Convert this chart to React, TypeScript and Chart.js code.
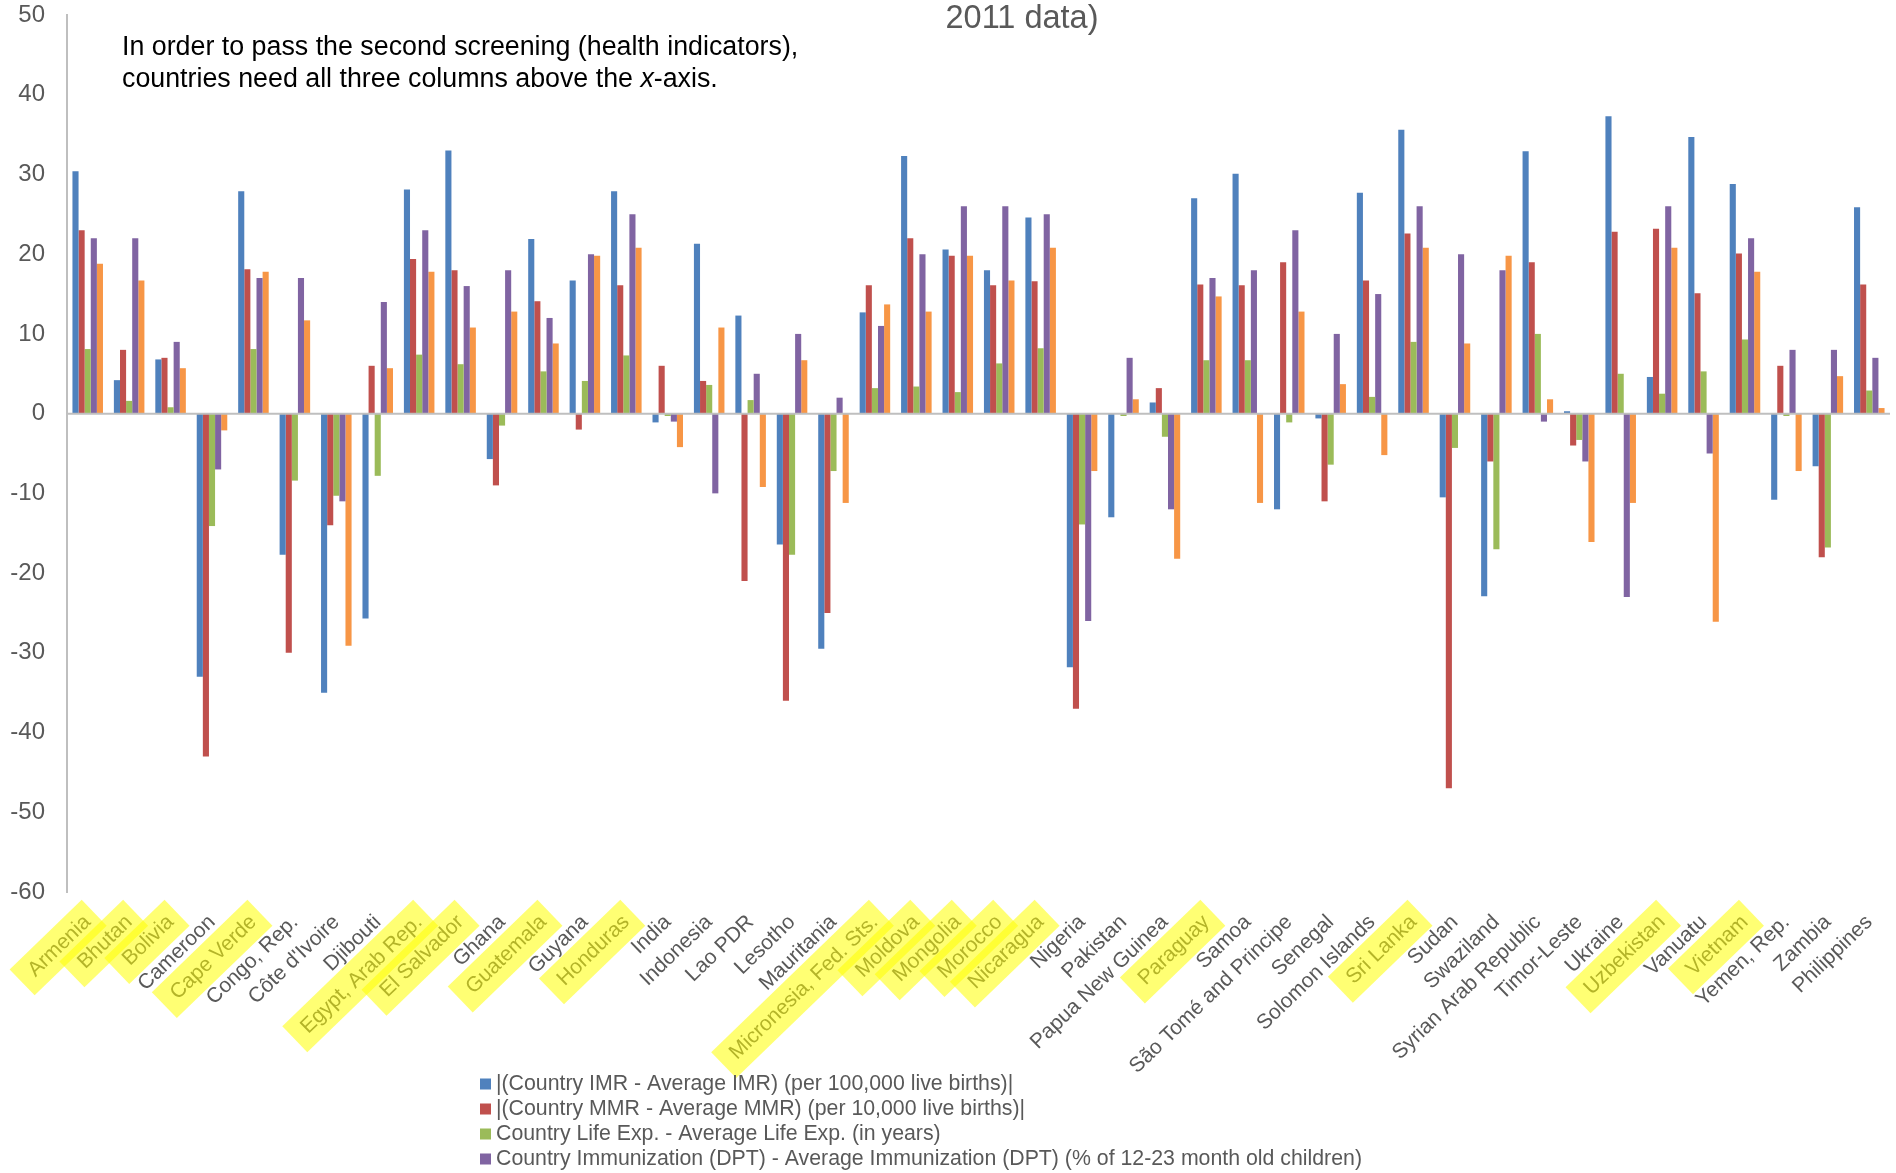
import React, { useEffect, useRef } from "react";
import { Chart, registerables } from "chart.js";

Chart.register(...registerables);

const categories = [
  "Armenia", "Bhutan", "Bolivia", "Cameroon", "Cape Verde", "Congo, Rep.", "Côte d'Ivoire", "Djibouti",
  "Egypt, Arab Rep.", "El Salvador", "Ghana", "Guatemala", "Guyana", "Honduras", "India", "Indonesia",
  "Lao PDR", "Lesotho", "Mauritania", "Micronesia, Fed. Sts.", "Moldova", "Mongolia", "Morocco", "Nicaragua",
  "Nigeria", "Pakistan", "Papua New Guinea", "Paraguay", "Samoa", "São Tomé and Principe", "Senegal",
  "Solomon Islands", "Sri Lanka", "Sudan", "Swaziland", "Syrian Arab Republic", "Timor-Leste", "Ukraine",
  "Uzbekistan", "Vanuatu", "Vietnam", "Yemen, Rep.", "Zambia", "Philippines",
];

const highlighted = [
  "Armenia", "Bhutan", "Bolivia", "Cape Verde", "Egypt, Arab Rep.", "El Salvador", "Guatemala", "Honduras",
  "Micronesia, Fed. Sts.", "Moldova", "Mongolia", "Morocco", "Nicaragua", "Paraguay", "Sri Lanka",
  "Uzbekistan", "Vietnam",
];

const imrDiff = [
  30.4, 4.2, 6.8, -33.0, 27.9, -17.7, -35.0, -25.7, 28.1, 33.0, -5.7, 21.9, 16.7, 27.9, -1.1, 21.3,
  12.3, -16.4, -29.5, 12.7, 32.3, 20.6, 18.0, 24.6, -31.8, -13.0, 1.4, 27.0, 30.1, -12.0, -0.6,
  27.7, 35.6, -10.5, -22.9, 32.9, 0.3, 37.3, 4.6, 34.7, 28.8, -10.8, -6.6, 25.9,
];

const mmrDiff = [
  23, 8, 7, -43, 18.1, -30, -14, 6, 19.4, 18, -9, 14.1, -2, 16.1, 6, 4.1,
  -21, -36, -25, 16.1, 22, 19.8, 16.1, 16.6, -37, 0, 3.2, 16.2, 16.1, 19, -11,
  16.7, 22.6, -47, -6, 19, -4, 22.8, 23.2, 15.1, 20.1, 6, -18, 16.2,
];

const lifeExpDiff = [
  8.1, 1.6, 0.8, -14.1, 8.1, -8.4, -10.3, -7.8, 7.4, 6.2, -1.5, 5.3, 4.1, 7.3, -0.3, 3.6,
  1.7, -17.7, -7.2, 3.2, 3.4, 2.7, 6.3, 8.2, -13.9, -0.3, -2.9, 6.7, 6.7, -1.1, -6.4,
  2.1, 9.0, -4.3, -17.0, 10.0, -3.3, 5.0, 2.5, 5.3, 9.3, -0.3, -16.8, 2.9,
];

const dptDiff = [
  22, 22, 9, -7, 17, 17, -11, 14, 23, 16, 18, 12, 20, 25, -1, -10,
  5, 10, 2, 11, 20, 26, 26, 25, -26, 7, -12, 17, 18, 23, 10,
  15, 26, 20, 18, -1, -6, -23, 26, -5, 22, 8, 8, 7,
];

const fifthDiff = [
  18.8, 16.7, 5.7, -2.1, 17.8, 11.7, -29.1, 5.7, 17.8, 10.8, 12.8, 8.8, 19.8, 20.8, -4.2, 10.8,
  -9.2, 6.7, -11.2, 13.7, 12.8, 19.8, 16.7, 20.8, -7.2, 1.8, -18.2, 14.7, -11.2, 12.8, 3.7,
  -5.2, 20.8, 8.8, 19.8, 1.8, -16.1, -11.2, 20.8, -26.1, 17.8, -7.2, 4.7, 0.7,
];

const seriesLabels = [
  "|(Country IMR - Average IMR) (per 100,000 live births)|",
  "|(Country MMR - Average MMR) (per 10,000 live births)|",
  "Country Life Exp. - Average Life Exp. (in years)",
  "Country Immunization (DPT) - Average Immunization (DPT) (% of 12-23 month old children)",
  "Country Improved Water Source - Average Improved Water Source (% of population)",
];

const seriesColors = ["#4F81BD", "#C0504D", "#9BBB59", "#8064A2", "#F79646"];

const titleText = "2011 data)";
const noteLine1 = "In order to pass the second screening (health indicators),";
const noteLine2 = ["countries need all three columns above the ", "x", "-axis."];

const FONT = '"Liberation Sans", Arial, Helvetica, sans-serif';
const TICK_SIZE = 21;
const ROT = 44;
const TICK_PAD = 18;

export default function App() {
  const ref = useRef<HTMLCanvasElement>(null);

  useEffect(() => {
    const canvas = ref.current;
    if (!canvas) return;

    const overlay = {
      id: "overlay",
      afterDatasetsDraw(chart: any) {
        const { ctx, chartArea } = chart;
        const y0 = chart.scales.y.getPixelForValue(0);
        ctx.save();
        ctx.strokeStyle = "#bfbfbf";
        ctx.lineWidth = 2;
        ctx.beginPath();
        ctx.moveTo(chartArea.left, y0);
        ctx.lineTo(chartArea.right, y0);
        ctx.stroke();
        ctx.restore();
      },
      afterDraw(chart: any) {
        const ctx = chart.ctx as CanvasRenderingContext2D;
        const xs = chart.scales.x;
        ctx.save();

        // highlighter marks over selected category labels
        ctx.font = `${TICK_SIZE}px ${FONT}`;
        const lh = TICK_SIZE * 1.2;
        const rot = (-ROT * Math.PI) / 180;
        ctx.fillStyle = "rgba(255,255,0,0.55)";
        categories.forEach((c, i) => {
          if (!highlighted.includes(c)) return;
          const w = ctx.measureText(c).width;
          const px = xs.getPixelForTick(i);
          const ax = px + (lh / 2) * Math.sin(rot);
          const ay = xs.top + TICK_PAD;
          ctx.save();
          ctx.translate(ax, ay);
          ctx.rotate(rot);
          ctx.fillRect(-(w + 13), lh / 2 - 18, w + 22, 36);
          ctx.restore();
        });

        // title fragment
        ctx.font = `32.5px ${FONT}`;
        ctx.fillStyle = "#595959";
        ctx.textAlign = "center";
        ctx.textBaseline = "middle";
        ctx.fillText(titleText, 1022, 19);

        // note
        ctx.font = `26.8px ${FONT}`;
        ctx.fillStyle = "#000000";
        ctx.textAlign = "left";
        ctx.fillText(noteLine1, 122, 48);
        let x = 122;
        noteLine2.forEach((seg, k) => {
          ctx.font = k === 1 ? `italic 26.8px ${FONT}` : `26.8px ${FONT}`;
          ctx.fillText(seg, x, 80);
          x += ctx.measureText(seg).width;
        });

        // legend
        ctx.font = `21.3px ${FONT}`;
        ctx.textBaseline = "middle";
        seriesLabels.forEach((lab, i) => {
          const y = 1084 + i * 25;
          ctx.fillStyle = seriesColors[i];
          ctx.fillRect(480, y - 5.5, 11, 11);
          ctx.fillStyle = "#595959";
          ctx.fillText(lab, 496, y);
        });
        ctx.restore();
      },
    };

    const values = [imrDiff, mmrDiff, lifeExpDiff, dptDiff, fifthDiff];

    const chart = new Chart(canvas, {
      type: "bar",
      data: {
        labels: categories,
        datasets: values.map((v, i) => ({
          label: seriesLabels[i],
          data: v,
          backgroundColor: seriesColors[i],
          borderWidth: 0,
          categoryPercentage: 0.737,
          barPercentage: 1.0,
        })),
      },
      options: {
        responsive: false,
        animation: false,
        layout: { padding: { top: 15, right: 6, bottom: 101, left: 0 } },
        plugins: {
          legend: { display: false },
          tooltip: { enabled: false },
          title: { display: false },
        },
        scales: {
          x: {
            grid: { display: false, drawTicks: false },
            border: { display: false },
            ticks: {
              autoSkip: false,
              minRotation: ROT,
              maxRotation: ROT,
              padding: TICK_PAD,
              color: "#595959",
              font: { family: FONT, size: TICK_SIZE },
            },
            afterFit: (s: any) => {
              s.height = 180;
              s.paddingRight = 0;
              s.paddingLeft = 0;
            },
          },
          y: {
            min: -60,
            max: 50,
            ticks: {
              stepSize: 10,
              padding: 22,
              color: "#595959",
              font: { family: FONT, size: 24 },
            },
            grid: { display: false, drawTicks: false },
            border: { display: true, color: "#bfbfbf", width: 2 },
            afterFit: (s: any) => {
              s.width = 67;
              s.paddingTop = 0;
              s.paddingBottom = 0;
            },
          },
        },
      },
      plugins: [overlay],
    } as any);

    return () => chart.destroy();
  }, []);

  return (
    <div style={{ position: "fixed", left: 0, top: 0, width: 1896, height: 1173, background: "#ffffff", overflow: "hidden" }}>
      <canvas ref={ref} width={1896} height={1173} style={{ display: "block" }} />
    </div>
  );
}
